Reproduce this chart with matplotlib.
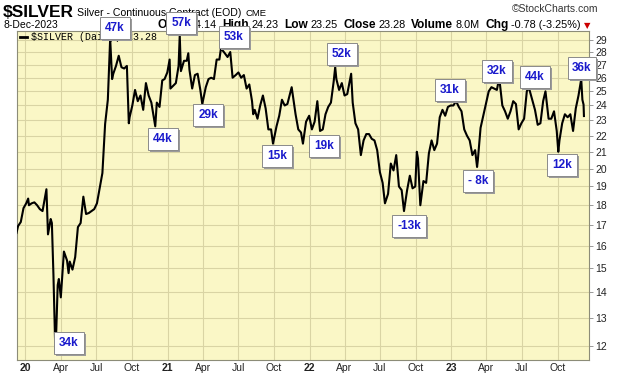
import numpy as np
import pandas as pd
import matplotlib
matplotlib.use("Agg")
import matplotlib.pyplot as plt
from matplotlib.lines import Line2D
from matplotlib.patches import Rectangle

plt.rcParams["font.family"] = ["Liberation Sans", "DejaVu Sans"]

# $SILVER daily close (pivots plus roughly weekly points)
dates = [
    "2019-12-09", "2019-12-13", "2019-12-20", "2019-12-27",
    "2020-01-03", "2020-01-08", "2020-01-10", "2020-01-17", "2020-01-24", "2020-01-31",
    "2020-02-07", "2020-02-14", "2020-02-21", "2020-02-24", "2020-02-28",
    "2020-03-06", "2020-03-09", "2020-03-13", "2020-03-18", "2020-03-20", "2020-03-24", "2020-03-27",
    "2020-04-01", "2020-04-09", "2020-04-17", "2020-04-21", "2020-04-24",
    "2020-05-01", "2020-05-08", "2020-05-15", "2020-05-22", "2020-05-29",
    "2020-06-05", "2020-06-12", "2020-06-19", "2020-06-26",
    "2020-07-03", "2020-07-10", "2020-07-17", "2020-07-24", "2020-07-31",
    "2020-08-06", "2020-08-11", "2020-08-14", "2020-08-21", "2020-08-28",
    "2020-09-04", "2020-09-11", "2020-09-18", "2020-09-23", "2020-09-25",
    "2020-10-02", "2020-10-09", "2020-10-16", "2020-10-23", "2020-10-30",
    "2020-11-06", "2020-11-13", "2020-11-20", "2020-11-30",
    "2020-12-04", "2020-12-11", "2020-12-18", "2020-12-24", "2020-12-31",
    "2021-01-06", "2021-01-08", "2021-01-15", "2021-01-22", "2021-01-29",
    "2021-02-01", "2021-02-04", "2021-02-12", "2021-02-19", "2021-02-23", "2021-02-26",
    "2021-03-05", "2021-03-12", "2021-03-19", "2021-03-26", "2021-03-31",
    "2021-04-09", "2021-04-16", "2021-04-23", "2021-04-30",
    "2021-05-07", "2021-05-14", "2021-05-18", "2021-05-28",
    "2021-06-04", "2021-06-11", "2021-06-17", "2021-06-25",
    "2021-07-02", "2021-07-09", "2021-07-16", "2021-07-23", "2021-07-30",
    "2021-08-06", "2021-08-09", "2021-08-13", "2021-08-20", "2021-08-27",
    "2021-09-03", "2021-09-10", "2021-09-17", "2021-09-24", "2021-09-29",
    "2021-10-08", "2021-10-15", "2021-10-22", "2021-10-29",
    "2021-11-05", "2021-11-16", "2021-11-19", "2021-11-26",
    "2021-12-03", "2021-12-10", "2021-12-15", "2021-12-23", "2021-12-31",
    "2022-01-07", "2022-01-14", "2022-01-21", "2022-01-28",
    "2022-02-04", "2022-02-11", "2022-02-18", "2022-02-25",
    "2022-03-04", "2022-03-08", "2022-03-11", "2022-03-18", "2022-03-25",
    "2022-04-01", "2022-04-08", "2022-04-18", "2022-04-22", "2022-04-29",
    "2022-05-06", "2022-05-13", "2022-05-20", "2022-05-27",
    "2022-06-03", "2022-06-10", "2022-06-17", "2022-06-24",
    "2022-07-01", "2022-07-08", "2022-07-14", "2022-07-22", "2022-07-29",
    "2022-08-05", "2022-08-12", "2022-08-19", "2022-08-26",
    "2022-09-01", "2022-09-09", "2022-09-16", "2022-09-23", "2022-09-30",
    "2022-10-04", "2022-10-07", "2022-10-13", "2022-10-21", "2022-10-28",
    "2022-11-04", "2022-11-11", "2022-11-18", "2022-11-25",
    "2022-12-02", "2022-12-09", "2022-12-16", "2022-12-23", "2022-12-30",
    "2023-01-06", "2023-01-13", "2023-01-20", "2023-01-27",
    "2023-02-03", "2023-02-10", "2023-02-17", "2023-02-24",
    "2023-03-03", "2023-03-08", "2023-03-10", "2023-03-17", "2023-03-24", "2023-03-31",
    "2023-04-07", "2023-04-14", "2023-04-21", "2023-04-28",
    "2023-05-04", "2023-05-12", "2023-05-19", "2023-05-26",
    "2023-06-02", "2023-06-09", "2023-06-16", "2023-06-23", "2023-06-30",
    "2023-07-07", "2023-07-14", "2023-07-19", "2023-07-28",
    "2023-08-04", "2023-08-11", "2023-08-18", "2023-08-25", "2023-08-31",
    "2023-09-08", "2023-09-15", "2023-09-22", "2023-09-29",
    "2023-10-03", "2023-10-06", "2023-10-13", "2023-10-20", "2023-10-27",
    "2023-11-03", "2023-11-10", "2023-11-17", "2023-11-24",
    "2023-12-01", "2023-12-04", "2023-12-07", "2023-12-08",
]
close = [
    16.62, 16.95, 17.15, 17.85,
    18.10, 18.35, 18.00, 18.10, 18.15, 18.00,
    17.80, 17.70, 18.50, 18.85, 16.55,
    17.30, 17.10, 14.75, 11.77, 12.40, 14.30, 14.55,
    13.80, 15.75, 15.35, 14.80, 15.30,
    14.95, 15.50, 16.90, 17.10, 18.45,
    17.55, 17.60, 17.70, 17.80,
    18.10, 18.90, 19.75, 22.75, 24.40,
    29.10, 25.90, 26.30, 26.90, 27.70,
    26.80, 26.70, 26.90, 22.80, 23.20,
    24.00, 25.10, 24.30, 24.70, 23.70,
    25.60, 24.70, 24.20, 22.60,
    24.20, 23.90, 25.80, 25.90, 26.40,
    27.40, 25.20, 25.40, 25.60, 26.90,
    29.40, 26.50, 27.30, 27.30, 27.90, 26.60,
    25.20, 26.20, 26.30, 25.10, 24.10,
    25.30, 25.90, 26.00, 25.90,
    27.40, 27.40, 28.30, 27.90,
    27.60, 28.00, 26.00, 26.20,
    26.40, 26.00, 26.20, 25.20, 25.50,
    24.30, 23.40, 23.70, 23.10, 24.00,
    24.70, 23.80, 22.40, 22.40, 21.50,
    22.60, 23.30, 24.40, 24.00,
    24.10, 25.30, 24.70, 23.40,
    22.40, 22.20, 21.50, 22.90, 23.30,
    22.40, 22.90, 24.30, 22.30,
    22.40, 23.40, 23.90, 24.20,
    25.70, 26.80, 25.90, 25.10, 25.60,
    24.70, 24.80, 26.30, 24.20, 22.80,
    22.40, 20.80, 21.70, 22.10,
    22.10, 21.80, 21.70, 21.10,
    19.80, 19.20, 18.10, 18.60, 20.30,
    19.90, 20.80, 19.00, 18.80,
    17.70, 18.80, 19.60, 18.90, 19.00,
    21.00, 20.60, 18.00, 19.30, 19.20,
    20.90, 21.70, 21.10, 21.50,
    23.20, 23.70, 23.30, 23.90, 24.00,
    24.00, 24.30, 23.90, 23.60,
    22.40, 22.00, 21.70, 20.80,
    21.10, 20.10, 20.50, 22.50, 23.30, 24.10,
    25.00, 25.30, 25.20, 25.10,
    26.00, 24.00, 23.60, 23.10,
    23.60, 24.30, 24.10, 22.40, 22.80,
    23.10, 25.00, 25.30, 24.40,
    23.70, 22.70, 22.80, 24.30, 25.00,
    23.10, 23.10, 23.60, 22.30,
    21.00, 21.70, 22.80, 23.40, 23.20,
    23.40, 22.30, 23.80, 24.70,
    25.90, 24.40, 24.06, 23.28,
]

# open-interest change notes pasted on the chart
oi_labels = ["34k", "47k", "57k", "44k", "29k", "53k", "15k", "19k",
             "52k", "-13k", "31k", "- 8k", "32k", "44k", "12k", "36k"]
# box centres in pixels (x from left, y from top)
oi_pos = [(69, 343), (115, 28), (181, 23), (163, 139), (208, 115), (234, 37),
          (277, 156), (324, 146), (342, 54), (409, 226), (450, 90), (478, 181),
          (497, 71), (535, 77), (562, 165), (582, 68)]

y_ticks = list(range(12, 30))
x_ticks = pd.date_range("2020-01-01", "2023-10-01", freq="QS")
x_ticklabels = ["20", "Apr", "Jul", "Oct", "21", "Apr", "Jul", "Oct",
                "22", "Apr", "Jul", "Oct", "23", "Apr", "Jul", "Oct"]

W, H = 620, 376
fig = plt.figure(figsize=(W / 100, H / 100), dpi=100, facecolor="white")
L, R, T, B = 16.5, 589, 31, 360
ax = fig.add_axes([L / W, 1 - B / H, (R - L) / W, (B - T) / H])
ax.set_facecolor("#faf7c6")

ax.plot(pd.to_datetime(dates), close, color="black", lw=1.5, zorder=3)

ax.set_yscale("log")
ax.set_ylim(11.52, 29.75)
ax.set_xlim(pd.Timestamp("2019-12-09"), pd.Timestamp("2023-12-21"))

ax.yaxis.set_minor_locator(matplotlib.ticker.NullLocator())
ax.set_yticks(y_ticks)
ax.set_yticklabels([str(v) for v in y_ticks])
ax.yaxis.tick_right()
ax.tick_params(axis="y", which="both", length=3, width=0.6, color="#888888",
               labelsize=7.5, pad=1.5, labelcolor="#222222")

ax.set_xticks(x_ticks)
ax.set_xticklabels(x_ticklabels)
ax.tick_params(axis="x", length=0, labelsize=7.5, pad=2.5, labelcolor="#222222")
for lab in ax.get_xticklabels():
    if lab.get_text().isdigit():
        lab.set_fontweight("bold")

ax.grid(True, color="#d9d4a4", lw=0.8, zorder=0)
for s in ax.spines.values():
    s.set_color("#8c8c78")
    s.set_linewidth(0.8)


def px(x, y):
    return x / W, 1 - y / H


rend = fig.canvas.get_renderer()

# header
t = fig.text(*px(3, 17), "$SILVER", fontsize=12.5, fontweight="bold", va="baseline")
x = t.get_window_extent(renderer=rend).x1 + 3
t = fig.text(*px(x, 16), "Silver - Continuous Contract (EOD)", fontsize=7.6, va="baseline")
x = t.get_window_extent(renderer=rend).x1 + 4
fig.text(*px(x, 16), "CME", fontsize=6.8, va="baseline")
fig.text(*px(598, 12), "\u00a9StockCharts.com", fontsize=7.5, va="baseline", ha="right",
         color="#333333")
fig.text(*px(3, 28), "8-Dec-2023", fontsize=7.5, va="baseline")

stats = [("Open", "bold"), ("24.14", "normal"), ("High", "bold"), ("24.23", "normal"),
         ("Low", "bold"), ("23.25", "normal"), ("Close", "bold"), ("23.28", "normal"),
         ("Volume", "bold"), ("8.0M", "normal"), ("Chg", "bold"), ("-0.78 (-3.25%)", "normal")]
x = 157
for txt, w in stats:
    t = fig.text(*px(x, 28), txt, fontsize=8.6 if w == "bold" else 7.8,
                 fontweight=w, va="baseline")
    x = t.get_window_extent(renderer=rend).x1 + (2.5 if w == "bold" else 5.5)
fig.text(*px(x - 2, 28), "\u25bc", fontsize=6, color="#cc0000", va="baseline",
         family="DejaVu Sans")

# legend line inside the plot
fig.add_artist(Line2D([20 / W, 27 / W], [1 - 37 / H, 1 - 37 / H], color="black", lw=2))
fig.text(*px(31, 40), "$SILVER (Daily) 23.28", fontsize=7.2, va="baseline",
         family="Liberation Mono")

# OI change boxes with drop shadow
for lab, (bx, by) in zip(oi_labels, oi_pos):
    t = fig.text(*px(bx, by), lab, fontsize=8.5, fontweight="bold", color="#1a1acc",
                 ha="center", va="center", zorder=9,
                 bbox=dict(boxstyle="square,pad=0.4", fc="white", ec="#8a8a8a", lw=0.7))
    t.update_bbox_position_size(rend)
    bb = t.get_bbox_patch().get_window_extent(renderer=rend)
    fig.add_artist(Rectangle(((bb.x0 + 2) / W, (bb.y0 - 2) / H), bb.width / W, bb.height / H,
                             transform=fig.transFigure, fc="#9a9a9a", ec="none", zorder=8))

fig.savefig("out.png", dpi=100)
